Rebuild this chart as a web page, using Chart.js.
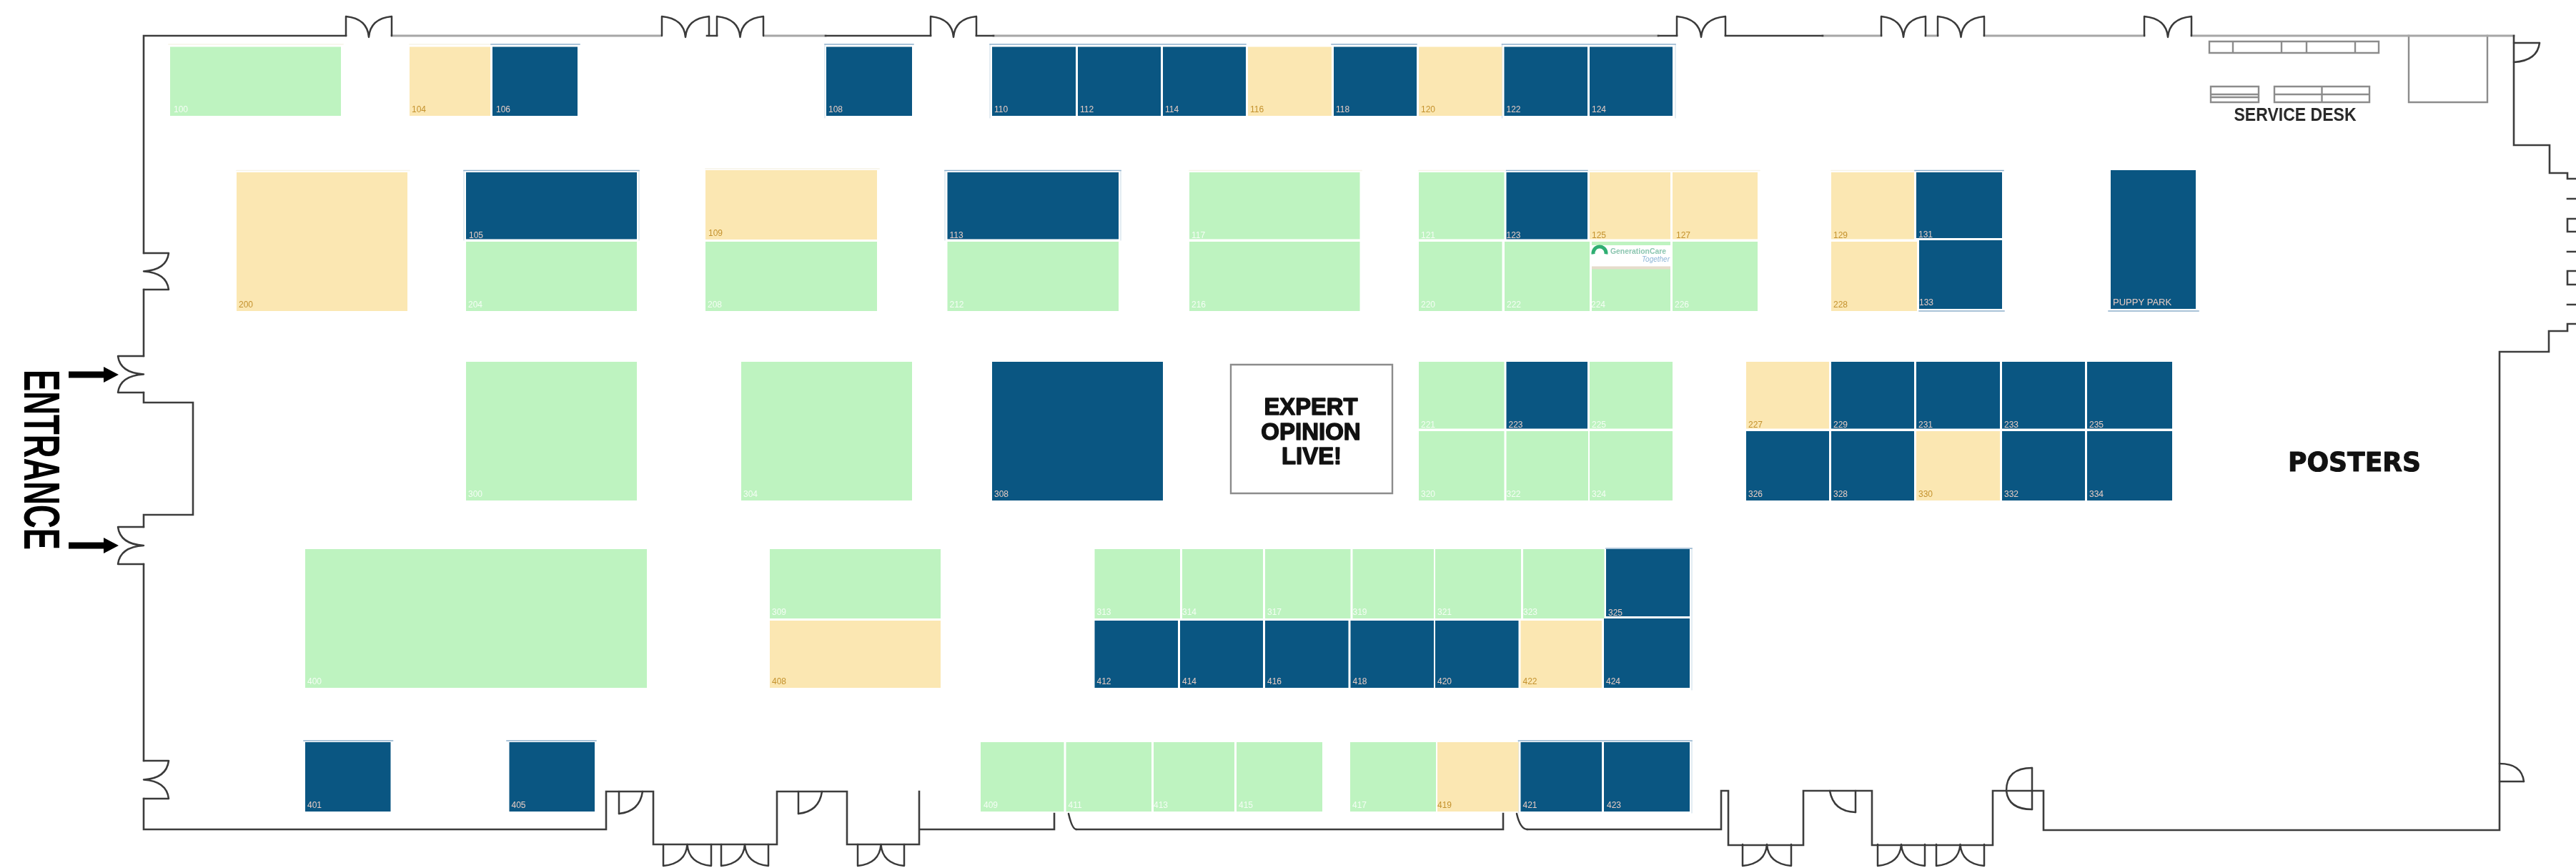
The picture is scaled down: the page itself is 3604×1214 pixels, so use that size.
<!DOCTYPE html>
<html>
<head>
<meta charset="utf-8">
<style>html,body{margin:0;padding:0;background:#fff}canvas{display:block}</style>
<script src="https://cdn.jsdelivr.net/npm/chart.js@4/dist/chart.umd.js"></script>
</head>
<body>
<canvas id="c" width="3604" height="1214"></canvas>
<script>
// Floor-plan values: each booth is a floating bar on the plan's x / y axes.
const boothIds = [
  '100','104','106','108','110','112','114','116','118','120','122','124',
  '105','109','113','117','121','123','125','127','129','131',
  '204','208','212','216','220','222','224','226','228','133',
  '200','PUPPY PARK',
  '221','223','225','227','229','231','233','235',
  '300','304','308',
  '320','322','324','326','328','330','332','334',
  '400','309','313','314','317','319','321','323','325',
  '408','412','414','416','418','420','422','424',
  '401','405','409','411','413','415','417','419','421','423'
];
const boothStatus = [
  'G','Y','B','B','B','B','B','Y','B','Y','B','B',
  'B','Y','B','G','G','B','Y','Y','Y','B',
  'G','G','G','G','G','G','G','G','Y','B',
  'Y','B',
  'G','B','G','Y','B','B','B','B',
  'G','G','B',
  'G','G','G','B','B','Y','B','B',
  'G','G','G','G','G','G','G','G','B',
  'Y','B','B','B','B','B','Y','B',
  'B','B','G','G','G','G','G','Y','B','B'
];
const boothLeft = [
  238,573,689,1156,1388,1508,1627,1746,1866,1985,2104.5,2224,
  652,987,1325.5,1664,1985,2107.5,2224,2340,2562,2681,
  652,987,1325.5,1664,1985,2105,2227,2340,2562,2685,
  331,2953,
  1985,2107.5,2224,2443,2562,2681,2801,2920,
  652,1037,1388,
  1985,2107.5,2224,2443,2562,2681,2801,2920,
  427,1077,1531.5,1654,1770,1892.5,2008,2131,2247,
  1077,1531.5,1651,1770,1889.5,2008,2127.5,2244,
  427,712.5,1372,1491.5,1614,1730,1889,2011,2127.5,2244
];
const boothRight = [
  477,686,808,1276,1505,1624,1743,1863,1982,2101.5,2221,2340,
  891,1227,1565,1902.5,2104.5,2221,2337,2459,2678,2801,
  891,1227,1565,1902.5,2101.5,2224,2337,2459,2682,2801,
  570,3072,
  2104.5,2221,2340,2559,2678,2798,2917,3039,
  891,1276,1627,
  2104.5,2222,2340,2559,2678,2798,2917,3039,
  905,1316,1651,1767,1889.5,2006,2128,2244.5,2364,
  1316,1648,1767,1886.5,2006,2124.5,2241,2364,
  546.5,832,1488.5,1611,1727,1850,2009,2124.5,2241,2364
];
const boothTop = [
  65.5,65.5,65.5,65.5,65.5,65.5,65.5,65.5,65.5,65.5,65.5,65.5,
  241,238,241,241,241,241,241,241,241,241,
  338,338,338,338,338,338,338,338,338,336,
  241,238,
  506,506,506,506,506,506,506,506,
  506,506,506,
  603,603,603,603,603,603,603,603,
  768,768,768,768,768,768,768,768,768,
  868,868,868,868,868,868,868,865,
  1038,1038,1038,1038,1038,1038,1038,1038,1038,1038
];
const boothBottom = [
  162,162,162,162,162,162,162,162,162,162,162,162,
  334.5,335,334.5,334.5,334.5,334.5,334.5,334.5,334.5,333,
  435,435,435,435,435,435,435,435,435,432,
  435,432,
  599.5,599.5,599.5,599.5,599.5,599.5,599.5,599.5,
  700,700,700,
  700,700,700,700,700,700,700,700,
  962,865,865,865,865,865,865,865,862,
  962,962,962,962,962,962,962,962,
  1135,1135,1135,1135,1135,1135,1135,1135,1135,1135
];
const nudgeLeft = {'123':0,'224':-1,'127':5,'322':0,'314':0,'319':0,'323':0,'413':0,'419':0,'133':0,'100':5,'106':5,'105':4,'109':4,'423':4,'409':4};
const tallLabelRows = ['105','113','117','121','123','125','127','129','131','221','223','225','227','229','231','233','235','325'];

// Walls, fixtures and halos as polylines on the same axes (null = break).
const wallsDark = [
  [201,50],[484,50],null,[989,50],[1003,50],null,[1155,50],[1302,50],null,[1366,50],[1390,50],null,[2320,50],[2346,50],null,[2414,50],[2550,50],null,
  [201,50],[201,354],null,[201,405],[201,498],null,[201,549],[201,563],[270,563],[270,720],[201,720],[201,737],null,
  [201,789],[201,1064],null,[201,1117],[201,1160],[848,1160],[848,1107],[914,1107],[914,1181],[1087,1181],[1087,1107],[1185,1107],[1185,1181],[1286,1181],[1286,1107],null,
  [1288,1160],[1475,1160],[1475,1138],null,[1506,1160],[2103,1160],[2103,1138],null,
  [2137,1160],[2408,1160],[2408,1106],[2418,1106],[2418,1182],[2523,1182],[2523,1106],[2619,1106],[2619,1182],[2788,1182],[2788,1106],[2859,1106],[2859,1161],[3497,1161],
  [3497,492],[3566,492],[3566,463],[3592,463],[3592,453],[3604,453],null,
  [3517,50],[3517,203],[3567,203],[3567,242],[3592,242],[3592,250],[3604,250],null,
  [3592,278],[3604,278],null,[3604,306],[3592,306],[3592,324],[3604,324],null,
  [3592,352],[3604,352],null,[3604,379],[3592,379],[3592,398],[3604,398],null,[3592,426],[3604,426]
];
const wallsGrey = [
  [548,50],[924,50],null,[1069,50],[1155,50],null,[1390,50],[2320,50],null,[2550,50],[2632,50],null,
  [2694,50],[2711,50],null,[2776,50],[3000,50],null,[3066,50],[3517,50]
];
const fixtures = [
  [3091,58],[3328,58],[3328,74],[3091,74],[3091,58],null,
  [3124,58],[3124,74],null,[3192,58],[3192,74],null,[3227,58],[3227,74],null,[3295,58],[3295,74],null,
  [3093,121],[3160,121],[3160,143],[3093,143],[3093,121],null,[3093,132],[3160,132],null,[3093,136],[3160,136],null,
  [3182,121],[3315,121],[3315,143],[3182,143],[3182,121],null,[3248.5,121],[3248.5,143],null,[3182,132],[3315,132],null,
  [3370,50],[3370,143],[3480,143],[3480,50],null,
  [1722,510],[1722,690],[1948,690],[1948,510],null,[1722,510],[1948,510]
];
const blueHalos = [
  [687,62],[811,62],null,[1154,62],[1278,62],null,
  [1385,62],[1743,62],null,[1863,62],[1982,62],null,[2101.5,62],[2344,62],null,
  [425,1036],[549.5,1036],null,[709,1036],[834,1036],null,[2124.5,1036],[2367,1036],null,
  [649,238.5],[894,238.5],null,[1322,238.5],[1568,238.5],null,[2107.5,238.5],[2221,238.5],null,[2679,238.5],[2803,238.5],null,
  [2685,435],[2804,435],null,[2950,435],[3076,435],null,[2247,767],[2367,767]
];
const blueSides = [
  [1154,62],[1154,165],null,[1385,62],[1385,165],null,[2344,62],[2344,165],null,[2101.5,62],[2101.5,165],null,
  [2124.5,1036],[2124.5,1137],null,[2367,1036],[2367,1137],null,[2367,767],[2367,965],null,
  [649,238.5],[649,336],null,[894,238.5],[894,336],null,[1322,238.5],[1322,336],null,[1568,238.5],[1568,336]
];
const paleHalos = [
  [236,62],[480,62],null,[573,62],[686,62],null,[331,238.5],[573,238.5],null,[987,236],[1230,236],null,
  [1664,238.5],[1905,238.5],null,[1985,238.5],[2105,238.5],null,[2224,238.5],[2462,238.5],null,[2562,238.5],[2678,238.5]
];
const doubleDoorsTop = [[484,548],[926,992],[1003,1068],[1302,1366],[2346,2414],[2632,2694],[2711,2776],[3000,3066]];
const doubleDoorsBottom = [[928,995],[1009,1075],[1200,1265],[2438,2506],[2627,2693],[2709,2776]];
const doubleDoorsSide = [[236,354,405],[165,498,549],[165,737,789],[236,1064,1117]];
const singleDoorCurves = [
  [866,1107,866,1138,null,null,null,null],[866,1138,895,1135,899,1107],
  [1117,1107,1117,1138,null,null,null,null],[1117,1138,1146,1135,1150,1107],
  [2596,1106,2596,1136,null,null,null,null],[2596,1136,2565,1135,2560,1106],
  [2843,1074,2843,1132,null,null,null,null],[2843,1074,2807,1074,2807,1106],[2807,1106,2810,1132,2843,1132],
  [3497,1093,3531,1093,null,null,null,null],[3497,1068,3528,1068,3531,1093],
  [3517,60,3553,60,null,null,null,null],[3553,60,3550,85,3517,87],
  [1495,1138,1500,1160,1506,1160],[2122,1138,2127,1160,2137,1160]
];
const arrowRows = [524,763];
const wallTopY = 50, doorTopTip = 23, wallBottomY = 1181, doorBottomTip = 1211, wallLeftX = 201;

const fills = {G:'#BEF3C0',Y:'#FBE7B2',B:'#0A5682'};
const inks = {G:'#F4FDF4',Y:'#C4922E',B:'#E6CCC4'};
const toXY = pts => pts.map(p => p ? {x:p[0],y:p[1]} : {x:null,y:null});
const lineSet = (pts,color,width) => ({type:'line',data:toXY(pts),borderColor:color,borderWidth:width,pointRadius:0,spanGaps:false,fill:false,tension:0,order:5,borderCapStyle:'square',borderJoinStyle:'miter'});

const boothSets = boothIds.map((id,i)=>({
  label:id, stack:'plan', order:1,
  data:[{x:(boothLeft[i]+boothRight[i])/2,y:[boothTop[i],boothBottom[i]]}],
  barThickness:boothRight[i]-boothLeft[i],
  backgroundColor:fills[boothStatus[i]],
  borderWidth:0, inflateAmount:0
}));

const planArt = {
  id:'planArt',
  afterDatasetsDraw(chart){
    const {ctx,scales:{x,y}} = chart;
    const X=v=>x.getPixelForValue(v), Y=v=>y.getPixelForValue(v);
    ctx.save();
    // booth labels
    ctx.textBaseline='alphabetic'; ctx.textAlign='left';
    boothIds.forEach((id,i)=>{
      ctx.font=(id==='PUPPY PARK'?'13px':'12px')+' "Liberation Sans"';
      ctx.fillStyle=inks[boothStatus[i]];
      const dx = id in nudgeLeft ? nudgeLeft[id] : 3;
      const dy = tallLabelRows.includes(id) ? 1.5 : 5;
      ctx.fillText(id,X(boothLeft[i]+dx),Y(boothBottom[i]-dy));
    });
    // doors
    ctx.strokeStyle='#3a3a3a'; ctx.lineWidth=2.5; ctx.lineJoin='round'; ctx.lineCap='round';
    const vDoor=(l,r,base,tip,mid)=>{
      const c=(l+r)/2, s=tip<base?1:-1;
      ctx.beginPath();
      ctx.moveTo(X(l),Y(base)); ctx.lineTo(X(l),Y(tip));
      ctx.quadraticCurveTo(X(c-2),Y(tip+s*3),X(c),Y(mid));
      ctx.quadraticCurveTo(X(c+2),Y(tip+s*3),X(r),Y(tip));
      ctx.lineTo(X(r),Y(base)); ctx.stroke();
    };
    doubleDoorsTop.forEach(d=>vDoor(d[0],d[1],wallTopY,doorTopTip,wallTopY+2));
    doubleDoorsBottom.forEach(d=>vDoor(d[0],d[1],wallBottomY,doorBottomTip,wallBottomY));
    doubleDoorsSide.forEach(d=>{
      const c=(d[1]+d[2])/2, s=d[0]<wallLeftX?1:-1;
      ctx.beginPath();
      ctx.moveTo(X(wallLeftX),Y(d[1])); ctx.lineTo(X(d[0]),Y(d[1]));
      ctx.quadraticCurveTo(X(d[0]+s*3),Y(c-2),X(wallLeftX),Y(c));
      ctx.quadraticCurveTo(X(d[0]+s*3),Y(c+2),X(d[0]),Y(d[2]));
      ctx.lineTo(X(wallLeftX),Y(d[2])); ctx.stroke();
    });
    singleDoorCurves.forEach(s=>{
      ctx.beginPath(); ctx.moveTo(X(s[0]),Y(s[1]));
      if(s[4]===null) ctx.lineTo(X(s[2]),Y(s[3]));
      else ctx.quadraticCurveTo(X(s[2]),Y(s[3]),X(s[4]),Y(s[5]));
      ctx.stroke();
    });
    // arrows
    ctx.fillStyle='#000';
    arrowRows.forEach(r=>{
      ctx.fillRect(X(96),Y(r-4.5),X(148)-X(96),Y(r+4.5)-Y(r-4.5));
      ctx.beginPath(); ctx.moveTo(X(145),Y(r-11)); ctx.lineTo(X(166),Y(r)); ctx.lineTo(X(145),Y(r+11)); ctx.closePath(); ctx.fill();
    });
    // logo panel on booth 224
    ctx.fillStyle='#fff'; ctx.fillRect(X(2227),Y(343),X(2337)-X(2227),Y(376)-Y(343));
    ctx.fillStyle='#E6DCCB'; ctx.fillRect(X(2227),Y(372.5),X(2337)-X(2227),4);
    ctx.strokeStyle='#2FAE72'; ctx.lineWidth=5; ctx.lineCap='butt';
    ctx.beginPath(); ctx.arc(X(2238),Y(354),9,Math.PI*0.95,Math.PI*2.05); ctx.stroke();
    ctx.textAlign='right';
    ctx.font='bold 11px "Liberation Sans"'; ctx.fillStyle='#8CC6B0'; ctx.fillText('GenerationCare',X(2331),Y(355),78);
    ctx.font='italic 10px "Liberation Sans"'; ctx.fillStyle='#8DB5D6'; ctx.fillText('Together',X(2336),Y(366),44);
    // titles, thickened with a stroke to match the heavy blurred lettering
    const heavy=(t,px,py,w,weight)=>{
      ctx.fillText(t,X(px),Y(py),w);
      ctx.lineWidth=weight; ctx.lineJoin='round';
      ctx.strokeText(t,X(px),Y(py),w);
    };
    ctx.fillStyle='#111'; ctx.strokeStyle='#111'; ctx.textAlign='center';
    ctx.font='bold 33px "Liberation Sans"';
    heavy('EXPERT',1834,580,131,1.4);
    heavy('OPINION',1834,615,156,1.4);
    heavy('LIVE!',1835,648.5,84,1.4);
    ctx.font='bold 25px "Liberation Sans"';
    ctx.fillStyle='#2a2a2a';
    ctx.fillText('SERVICE DESK',X(3211),Y(169),171);
    ctx.fillStyle='#111';
    ctx.font='bold 37px "DejaVu Sans"';
    heavy('POSTERS',3294,659,186,1);
    ctx.save();
    ctx.translate(X(34),Y(517)); ctx.rotate(Math.PI/2);
    ctx.textAlign='left'; ctx.fillStyle='#000'; ctx.font='bold 70px "Liberation Sans"';
    ctx.fillText('ENTRANCE',0,0,252);
    ctx.restore();
    ctx.restore();
  }
};

new Chart(document.getElementById('c'),{
  type:'bar',
  data:{datasets:[
    ...boothSets,
    lineSet(wallsDark,'#3d3d3d',2.6),
    lineSet(wallsGrey,'#a6a6a6',3),
    lineSet(fixtures,'#8c8c8c',2.4),
    lineSet(blueHalos,'#8FB0CC',1.5),
    lineSet(blueSides,'#D3E1EC',1.2),
    lineSet(paleHalos,'#F6F4E8',1.5)
  ]},
  plugins:[planArt],
  options:{
    responsive:false, animation:false, devicePixelRatio:1, clip:false,
    layout:{padding:0},
    plugins:{legend:{display:false},title:{display:false},tooltip:{enabled:false}},
    scales:{
      x:{type:'linear',min:0,max:3604,display:false,stacked:true,offset:false,grid:{display:false}},
      y:{type:'linear',min:0,max:1214,reverse:true,display:false,stacked:false,grid:{display:false}}
    }
  }
});
</script>
</body>
</html>
